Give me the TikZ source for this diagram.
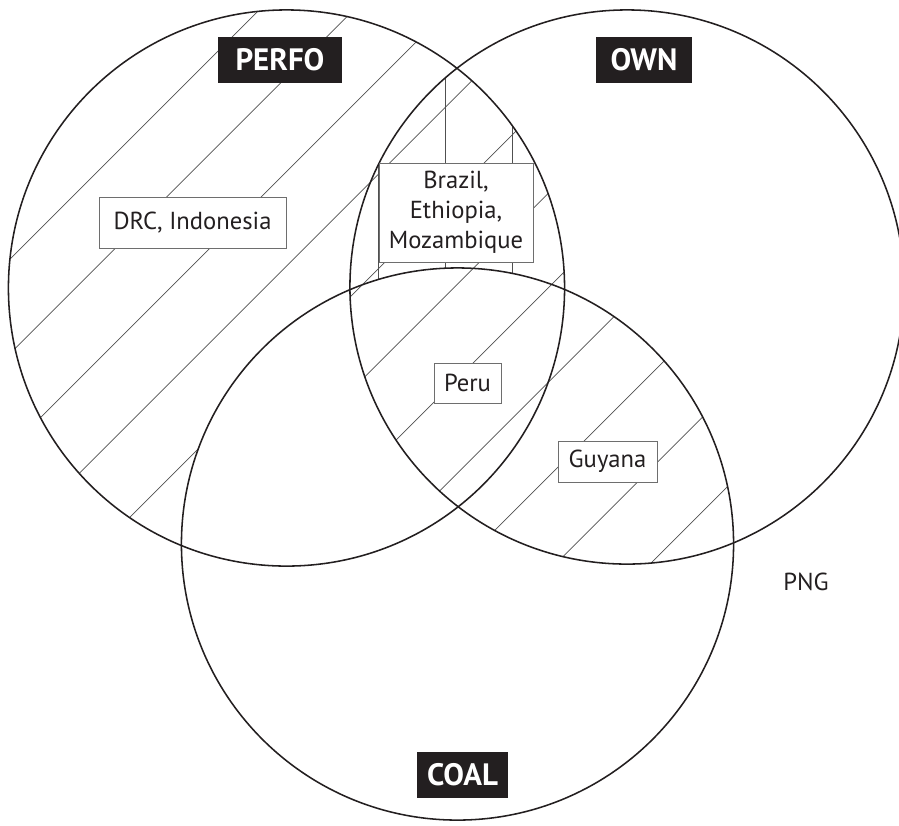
\documentclass[tikz,border=0pt]{standalone}
\usepackage{fontspec}
\setmainfont{PT Sans}
\usepackage{tikz}
\definecolor{vnline}{RGB}{35,31,32}
\definecolor{vnhatch}{RGB}{80,80,80}
\definecolor{vnbox}{RGB}{110,110,110}
\tikzstyle{ring} = [draw=vnline, line width=1.1pt]
\tikzstyle{hatch} = [draw=vnhatch, line width=0.5pt]
\tikzstyle{setlabel} = [rectangle, fill=vnline, text=white, font=\fontsize{22}{26}\selectfont\bfseries, minimum height=1.15cm, inner sep=0pt]
\tikzstyle{country} = [rectangle, draw=vnbox, fill=white, line width=0.6pt, text=vnline, font=\fontsize{17.5}{21.3}\selectfont, align=center, inner sep=0pt]

\begin{document}
\begin{tikzpicture}[x=0.025cm, y=-0.025cm]
\useasboundingbox (0,0) rectangle (899,825);
% Centres of the three sets
\coordinate (cperfo) at (286.5,288);
\coordinate (cown) at (627,287);
\coordinate (ccoal) at (457.5,544);

% Hatching of PERFO outside COAL
\begin{scope}
\clip (cperfo) circle (6.95cm);
\foreach \k in {-1,...,12} {\draw[hatch] ({269+94.5*\k-900},900) -- ({269+94.5*\k},0);}
\begin{scope}
\clip (cown) circle (6.925cm);
\foreach \x in {378,445,512} {\draw[hatch] (\x,0) -- (\x,600);}
\end{scope}
\fill[white] (ccoal) circle (6.9cm);
\end{scope}

% Hatching of OWN and COAL
\begin{scope}
\clip (cown) circle (6.925cm);
\clip (ccoal) circle (6.9cm);
\foreach \k in {-1,...,12} {\draw[hatch] ({269+94.5*\k-900},900) -- ({269+94.5*\k},0);}
\end{scope}

% Circles
\draw[ring] (cperfo) circle (6.95cm);
\draw[ring] (cown) circle (6.925cm);
\draw[ring] (ccoal) circle (6.9cm);

% Set names
\node (perfo) [setlabel, minimum width=3.1cm] at (280,60) {PERFO};
\node (own) [setlabel, minimum width=2.4cm] at (644,60) {OWN};
\node (coal) [setlabel, minimum width=2.275cm] at (462.5,775) {COAL};

% Countries
\node (drc) [country, minimum width=4.675cm, minimum height=1.275cm] at (192.5,222.5) {DRC, Indonesia};
\node (brazil) [country, minimum width=3.85cm, minimum height=2.475cm] at (456,212.5) {Brazil,\\Ethiopia,\\Mozambique};
\node (peru) [country, minimum width=1.675cm, minimum height=1cm] at (467.5,383) {Peru};
\node (guyana) [country, minimum width=2.475cm, minimum height=1.025cm] at (607.5,461.5) {Guyana};
\node (png) [text=vnline, font=\fontsize{17.5}{21.3}\selectfont] at (806,582) {PNG};
\end{tikzpicture}
\end{document}
